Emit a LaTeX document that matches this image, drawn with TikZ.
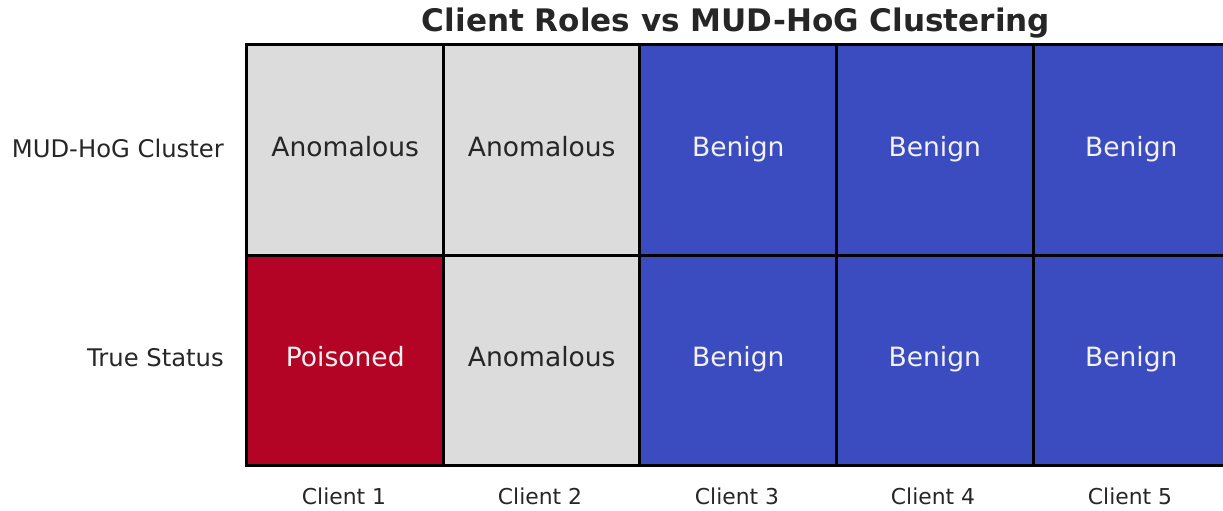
\documentclass[tikz,border=0pt]{standalone}
\usepackage{fontspec}
\setmainfont{DejaVu Sans}
\usepackage{tikz}

\definecolor{cwBlue}{HTML}{3B4CC0}
\definecolor{cwRed}{HTML}{B40426}
\definecolor{cwGray}{HTML}{DCDCDC}
\definecolor{inkDark}{HTML}{262626}
\definecolor{inkLight}{HTML}{F2F2F2}

\tikzset{
  cell/.style={draw=black, line width=2.25pt, minimum width=147.4pt, minimum height=157.5pt,
    inner sep=0pt, text height=15pt, text depth=5pt, font=\fontsize{19.9}{24}\selectfont},
  anom/.style={cell, fill=cwGray, text=inkDark},
  benign/.style={cell, fill=cwBlue, text=inkLight},
  poison/.style={cell, fill=cwRed, text=inkLight},
  xtick/.style={text=inkDark, font=\fontsize{16.4}{20}\selectfont, inner sep=0.75pt},
  ytick/.style={text=inkDark, font=\fontsize{18.2}{22}\selectfont, inner sep=0.75pt, anchor=east},
}

\begin{document}
\begin{tikzpicture}[x=0.75pt,y=0.75pt,yscale=-1,xscale=1]
\useasboundingbox (0,0) rectangle (1223,510);
\clip (0,0) rectangle (1223,510);

% heatmap cells, top row
\node [anom]   (a1) at (345.25,150) {Anomalous};
\node [anom]   (a2) at (541.75,150) {Anomalous};
\node [benign] (a3) at (738.25,150) {Benign};
\node [benign] (a4) at (934.75,150) {Benign};
\node [benign] (a5) at (1131.25,150) {Benign};
% heatmap cells, bottom row
\node [poison] (b1) at (345.25,360) {Poisoned};
\node [anom]   (b2) at (541.75,360) {Anomalous};
\node [benign] (b3) at (738.25,360) {Benign};
\node [benign] (b4) at (934.75,360) {Benign};
\node [benign] (b5) at (1131.25,360) {Benign};

% row labels
\node [ytick] (rowA) at (225,148) {MUD-HoG Cluster};
\node [ytick] (rowB) at (225,358) {True Status};

% column labels
\node [xtick] (colA) at (344,496) {Client 1};
\node [xtick] (colB) at (540,496) {Client 2};
\node [xtick] (colC) at (737,496) {Client 3};
\node [xtick] (colD) at (933,496) {Client 4};
\node [xtick] (colE) at (1130,496) {Client 5};

% title
\node [anchor=base, text=inkDark, inner sep=0pt, font=\bfseries\fontsize{23.3}{28}\selectfont] (title) at (736,31.5) {Client Roles vs MUD-HoG Clustering};

\end{tikzpicture}
\end{document}
